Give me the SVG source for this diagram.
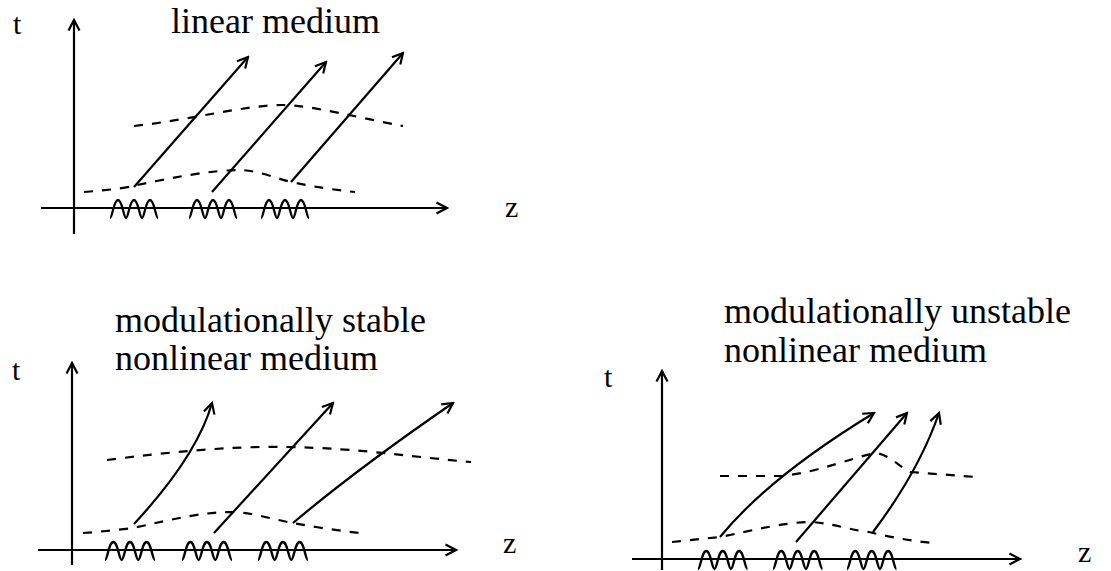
<svg xmlns="http://www.w3.org/2000/svg" xmlns:xlink="http://www.w3.org/1999/xlink" width="1111" height="571" viewBox="0 0 1111 571">
<style>
  .txt { font-family: "Liberation Serif", "Times New Roman", serif; fill: #000; }
  .title { font-size: 36px; }
  .lbl { font-size: 30px; }
  .axis { stroke: #000; stroke-width: 2.2; fill: none; marker-end: url(#arrow); }
  .ray { stroke: #000; stroke-width: 2.2; fill: none; marker-end: url(#arrow); }
  .front { stroke: #000; stroke-width: 2.2; fill: none; stroke-dasharray: 9 9; }
  .wave { stroke: #000; stroke-width: 2.3; fill: none; }
</style>
<defs>
  <marker id="arrow" viewBox="0 0 14 14" refX="12" refY="7" markerWidth="14" markerHeight="14" markerUnits="userSpaceOnUse" orient="auto">
    <path d="M1.5,1.5 L12,7 L1.5,12.5" fill="none" stroke="#000" stroke-width="2.2"/>
  </marker>
  <path id="wave" d="M0,9 C2.4,9 3.6,-9 8,-9 C12.4,-9 13.6,9 16,9 C18.4,9 19.6,-9 24,-9 C28.4,-9 29.6,9 32,9 C34.4,9 35.6,-9 40,-9 C44.4,-9 45.6,9 48,9"/>
</defs>

<rect width="1111" height="571" fill="#fff"/>

<!-- Panel 1: linear medium -->
<g id="panel-linear">
  <text class="txt title" x="171" y="33">linear medium</text>
  <text class="txt lbl" x="13" y="34">t</text>
  <text class="txt lbl" x="505" y="217">z</text>
  <g id="axes-1">
    <line class="axis" x1="74" y1="234" x2="74" y2="20"/>
    <line class="axis" x1="41" y1="208" x2="447" y2="208"/>
  </g>
  <g id="packets-1" class="wave">
    <use xlink:href="#wave" transform="translate(110,209)"/>
    <use xlink:href="#wave" transform="translate(189,209)"/>
    <use xlink:href="#wave" transform="translate(261,209)"/>
  </g>
  <g id="connectors-1">
    <path class="front" d="M134,126 C190,120 245,105 283,105 C310,105 360,118 403,126"/>
    <path class="front" d="M84,192 C110,190 125,188 133,186 C170,178 210,170 241,170 C260,171 275,178 291,182 C315,187 335,190 355,192"/>
    <line class="ray" x1="134" y1="187" x2="248" y2="57"/>
    <line class="ray" x1="212" y1="192" x2="326" y2="62"/>
    <line class="ray" x1="291" y1="182" x2="403" y2="53"/>
  </g>
</g>

<!-- Panel 2: modulationally stable nonlinear medium -->
<g id="panel-stable">
  <text class="txt title" x="115" y="332">modulationally stable</text>
  <text class="txt title" x="115" y="370">nonlinear medium</text>
  <text class="txt lbl" x="12" y="380">t</text>
  <text class="txt lbl" x="503" y="553">z</text>
  <g id="axes-2">
    <line class="axis" x1="72" y1="565" x2="72" y2="363"/>
    <line class="axis" x1="38" y1="550" x2="456" y2="550"/>
  </g>
  <g id="packets-2" class="wave">
    <use xlink:href="#wave" transform="translate(105,551) scale(1.04,1)"/>
    <use xlink:href="#wave" transform="translate(182,551) scale(1.04,1)"/>
    <use xlink:href="#wave" transform="translate(258,551) scale(1.04,1)"/>
  </g>
  <g id="connectors-2">
    <path class="front" d="M107,460 C170,452 230,446 286,447 C360,448 420,458 471,462"/>
    <path class="front" d="M83,533 C110,531 125,529 133,528 C170,520 200,512 233,512 C255,513 275,520 293,523 C315,527 340,531 360,533"/>
    <path class="ray" d="M134,524 Q197,456 212,403"/>
    <line class="ray" x1="214" y1="533" x2="333" y2="403"/>
    <path class="ray" d="M293,523 Q357,469 453,403"/>
  </g>
</g>

<!-- Panel 3: modulationally unstable nonlinear medium -->
<g id="panel-unstable">
  <text class="txt title" x="724" y="323">modulationally unstable</text>
  <text class="txt title" x="724" y="362">nonlinear medium</text>
  <text class="txt lbl" x="604" y="387">t</text>
  <text class="txt lbl" x="1078" y="562">z</text>
  <g id="axes-3">
    <line class="axis" x1="662" y1="570" x2="662" y2="371"/>
    <line class="axis" x1="632" y1="559" x2="1020" y2="559"/>
  </g>
  <g id="packets-3" class="wave">
    <use xlink:href="#wave" transform="translate(698,560) scale(1.03,1)"/>
    <use xlink:href="#wave" transform="translate(773,560) scale(1.03,1)"/>
    <use xlink:href="#wave" transform="translate(847,560) scale(1.03,1)"/>
  </g>
  <g id="connectors-3">
    <path class="front" d="M720,476 L781,476 C820,472 850,458 876,453 C890,455 898,466 910,472 L976,477"/>
    <path class="front" d="M672,542 L720,537 C755,530 785,522 812,522 C835,524 850,530 869,532 C890,537 910,541 934,543"/>
    <path class="ray" d="M720,537 Q769,477 874,413"/>
    <line class="ray" x1="796" y1="542" x2="907" y2="413"/>
    <path class="ray" d="M873,532 Q919,471 939,413"/>
  </g>
</g>
</svg>
